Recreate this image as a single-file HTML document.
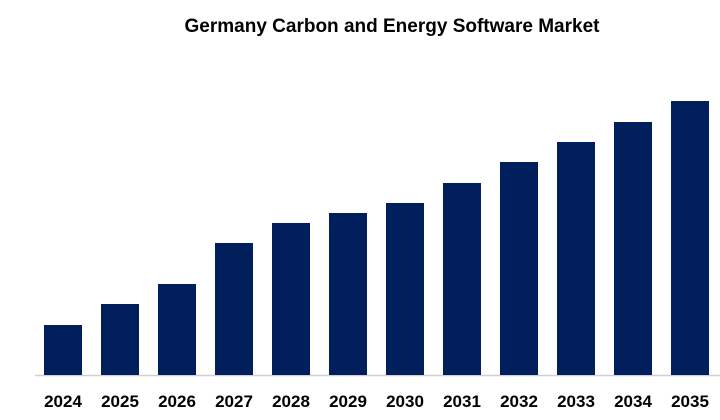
<!DOCTYPE html>
<html><head><meta charset="utf-8"><style>
body{margin:0;background:#fff;width:720px;height:420px;overflow:hidden}
svg{display:block;font-family:"Liberation Sans",Arial,sans-serif}
</style></head><body>
<svg id="c" width="720" height="420">
<text x="392" y="32" text-anchor="middle" font-size="19" font-weight="bold" fill="#000">Germany Carbon and Energy Software Market</text>
<line x1="35" y1="375.5" x2="720" y2="375.5" stroke="#d0d0d0" stroke-width="1.5"/>
</svg>
<script>
const categories=["2024","2025","2026","2027","2028","2029","2030","2031","2032","2033","2034","2035"];
const values=[50,71,91,132,152,162,172,192,213,233,253,274];
const svg=document.getElementById('c');
const NS="http://www.w3.org/2000/svg";
const baseY=375, x0=44, step=57, bw=38;
function xPos(i){return x0+i*step;}
function yPos(v){return baseY-v;}
categories.forEach((c,i)=>{
  const r=document.createElementNS(NS,'rect');
  r.setAttribute('x',xPos(i));
  r.setAttribute('y',yPos(values[i]));
  r.setAttribute('width',bw);
  r.setAttribute('height',baseY-yPos(values[i]));
  r.setAttribute('fill','#001f5c');
  
  
  svg.appendChild(r);
  const t=document.createElementNS(NS,'text');
  t.setAttribute('x',xPos(i)+bw/2);
  t.setAttribute('y',407);
  t.setAttribute('text-anchor','middle');
  t.setAttribute('font-size','17');
  t.setAttribute('font-weight','bold');
  t.textContent=c;
  
  
  svg.appendChild(t);
});
</script>
</body></html>
